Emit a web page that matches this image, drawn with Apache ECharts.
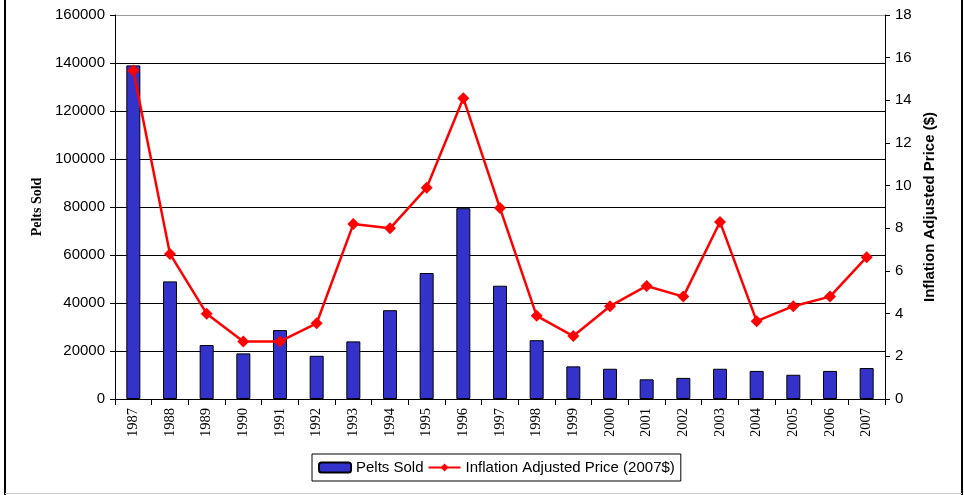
<!DOCTYPE html>
<html>
<head>
<meta charset="utf-8">
<script src="https://cdn.jsdelivr.net/npm/echarts@6/dist/echarts.min.js"></script>
<style>
  html, body { margin: 0; padding: 0; background: #fff; }
  #chart { width: 964px; height: 495px; }
</style>
</head>
<body>
<div id="chart"></div>
<script>
const years = ['1987', '1988', '1989', '1990', '1991', '1992', '1993', '1994', '1995', '1996', '1997',
  '1998', '1999', '2000', '2001', '2002', '2003', '2004', '2005', '2006', '2007']
const peltsSold = [139000, 49000, 22500, 19000, 28700, 18000, 24000, 37000, 52500, 79500, 47200,
  24500, 13600, 12600, 8200, 8800, 12600, 11700, 10100, 11700, 12900]
const adjustedPrice = [15.4, 6.8, 4.0, 2.7, 2.7, 3.55, 8.2, 8.0, 9.9, 14.1, 8.95,
  3.9, 2.95, 4.35, 5.3, 4.8, 8.3, 3.65, 4.35, 4.8, 6.65]

const sans = 'Liberation Sans'
const serif = 'Liberation Serif'

let chart = echarts.init(document.getElementById('chart'))
chart.setOption({
  animation: false,
  backgroundColor: '#fff',
  grid: { left: 115, right: 79, top: 15, bottom: 96 },
  legend: {
    left: 312, top: 454,
    padding: [6, 6, 6, 6],
    itemGap: 4,
    itemWidth: 32, itemHeight: 10,
    borderColor: '#000', borderWidth: 1,
    textStyle: { fontFamily: sans, fontSize: 15, color: '#000' },
    data: ['Pelts Sold', 'Inflation Adjusted Price (2007$)']
  },
  xAxis: {
    type: 'category',
    data: years,
    axisLine: { lineStyle: { color: '#000', width: 1 } },
    axisTick: { show: true, alignWithLabel: false, length: 6, lineStyle: { color: '#000' } },
    axisLabel: { rotate: 90, fontFamily: serif, fontSize: 14.5, color: '#000', margin: 9 }
  },
  yAxis: [
    {
      type: 'value', min: 0, max: 160000, interval: 20000,
      name: 'Pelts Sold', nameLocation: 'middle', nameGap: 63, nameRotate: 90,
      nameTextStyle: { fontFamily: serif, fontWeight: 'bold', fontSize: 14, color: '#000' },
      axisLine: { show: true, lineStyle: { color: '#000' } },
      axisTick: { show: true, length: 5, lineStyle: { color: '#000' } },
      axisLabel: { fontFamily: sans, fontSize: 15, color: '#000', margin: 10, formatter: v => String(v) },
      splitLine: { show: true, lineStyle: { color: ['#000', '#000', '#000', '#000', '#000', '#000', '#000', '#000', '#999'], width: 1 } }
    },
    {
      type: 'value', min: 0, max: 18, interval: 2,
      name: 'Inflation Adjusted Price ($)', nameLocation: 'middle', nameGap: 36, nameRotate: 90,
      nameTextStyle: { fontFamily: sans, fontWeight: 'bold', fontSize: 15, color: '#000' },
      axisLine: { show: true, lineStyle: { color: '#000' } },
      axisTick: { show: true, length: 5, lineStyle: { color: '#000' } },
      axisLabel: { fontFamily: sans, fontSize: 15, color: '#000', margin: 10 },
      splitLine: { show: false }
    }
  ],
  series: [
    {
      name: 'Pelts Sold', type: 'bar', yAxisIndex: 0,
      data: peltsSold, barWidth: 14,
      itemStyle: { color: '#3333CC', borderColor: '#000', borderWidth: 1 }
    },
    {
      name: 'Inflation Adjusted Price (2007$)', type: 'line', yAxisIndex: 1,
      data: adjustedPrice,
      symbol: 'diamond', symbolSize: 12,
      lineStyle: { color: '#FF0000', width: 2.5 },
      itemStyle: { color: '#FF0000' }
    }
  ],
  graphic: [
    { type: 'line', shape: { x1: 5, y1: 0, x2: 5, y2: 495 }, style: { stroke: '#000', lineWidth: 2 } },
    { type: 'line', shape: { x1: 962, y1: 0, x2: 962, y2: 495 }, style: { stroke: '#000', lineWidth: 2 } },
    { type: 'line', shape: { x1: 5, y1: 493.5, x2: 962, y2: 493.5 }, style: { stroke: '#ccc', lineWidth: 1 } }
  ]
})
</script>
</body>
</html>
